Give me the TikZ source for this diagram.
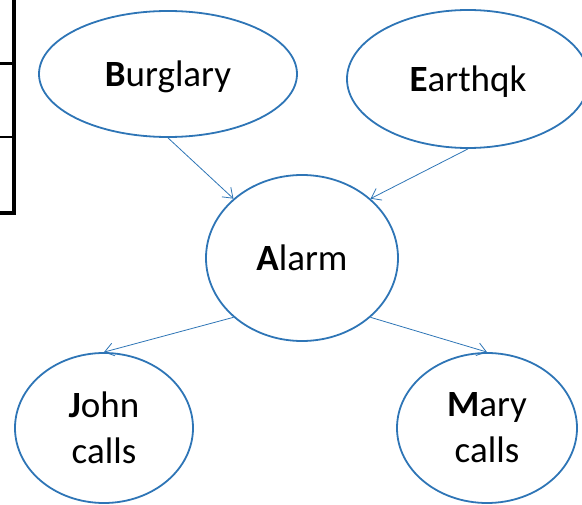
\documentclass[tikz,border=0pt]{standalone}
\usepackage{fontspec}
\setmainfont{Carlito}
\usetikzlibrary{shapes.geometric,arrows.meta}
\definecolor{nodeblue}{RGB}{46,117,182}

\begin{document}
\begin{tikzpicture}[x=1pt,y=-1pt,
    bnode/.style={draw=nodeblue, line width=1.8pt, ellipse, inner sep=0pt,
        align=center, text depth=0pt, font=\fontsize{37}{46}\selectfont},
    link/.style={nodeblue, line width=0.8pt, -{Straight Barb[length=9pt,width=13pt]}}]
    \useasboundingbox (0,0) rectangle (582,505);
    %%Table edge (cut off)
    \draw[line width=4pt] (14,0) -- (14,213);
    \draw[line width=3pt] (0,63.5) -- (16,63.5);
    \draw[line width=1.5pt] (0,137) -- (16,137);
    \draw[line width=4pt] (0,213) -- (16,213);
    %%Nodes
    \node[bnode, minimum width=258pt, minimum height=126pt] (burg) at (168,74) {\textbf{B}urglary};
    \node[bnode, minimum width=242pt, minimum height=138pt] (earth) at (468,79) {\textbf{E}arthqk};
    \node[bnode, minimum width=192pt, minimum height=166pt] (alarm) at (302,258) {\textbf{A}larm};
    \node[bnode, minimum width=178pt, minimum height=150pt] (john) at (104,428) {\textbf{J}ohn\\calls};
    \node[bnode, minimum width=180pt, minimum height=150pt] (mary) at (487,428) {\textbf{M}ary\\calls};
    %%Links
    \draw[link] (burg.south) -- (alarm.north west);
    \draw[link] (earth.south) -- (alarm.north east);
    \draw[link] (alarm.south west) -- (john.north);
    \draw[link] (alarm.south east) -- (mary.north);
\end{tikzpicture}
\end{document}
